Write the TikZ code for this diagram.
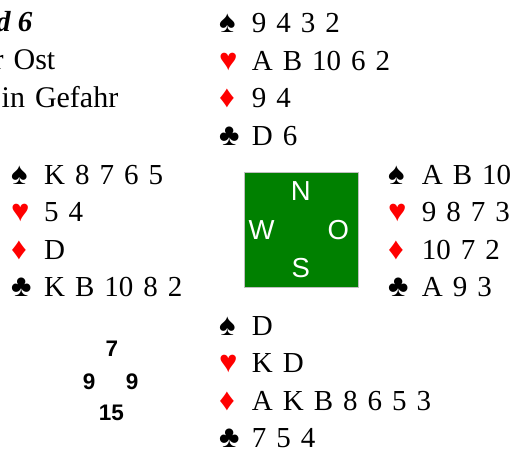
\documentclass[tikz,border=0pt]{standalone}
\usepackage{fontspec}
\setmainfont{Liberation Serif}
\newfontfamily\arialf{Liberation Sans}
\definecolor{felt}{HTML}{008000}
\definecolor{rim}{HTML}{BFBFBF}
\definecolor{suitred}{HTML}{FF0000}
\begin{document}
\begin{tikzpicture}[x=1pt,y=-1pt,
  card/.style={anchor=base west,inner sep=0pt,font={\fontsize{29}{34}\selectfont\spaceskip=10pt\relax}},
  suitsym/.style={anchor=base west,inner sep=0pt,font={\fontsize{31}{34}\selectfont}},
  suitblack/.style={suitsym,text=black},
  suitredst/.style={suitsym,text=suitred},
  info/.style={anchor=base east,inner sep=0pt,font={\fontsize{30}{34}\selectfont\spaceskip=10pt\relax}},
  compass/.style={anchor=center,inner sep=0pt,text=white,font={\arialf\fontsize{27.5}{28}\selectfont}},
  score/.style={anchor=base,inner sep=0pt,font={\arialf\bfseries\fontsize{22.5}{23}\selectfont}},
  table/.style={draw=rim,line width=1pt,fill=felt}]
\useasboundingbox (0,0) rectangle (517,449);
\clip (0,0) rectangle (517,449);
% header
\node[info,font={\fontsize{29}{34}\selectfont\bfseries\itshape}] (board) at (32.5,32) {Board 6};
\node[info] (dealer) at (55.5,70) {Teiler Ost};
\node[info] (vul) at (118.5,108) {O/W in Gefahr};
% north
\node[suitblack] (ns) at (219,33) {♠};
\node[card] (nsc) at (251.7,33) {9 4 3 2};
\node[suitredst] (nh) at (219,70.5) {♥};
\node[card] (nhc) at (251.7,70.5) {A B 10 6 2};
\node[suitredst] (nd) at (219,108) {♦};
\node[card] (ndc) at (251.7,108) {9 4};
\node[suitblack] (nc) at (219,145.5) {♣};
\node[card] (ncc) at (251.7,145.5) {D 6};
% west
\node[suitblack] (ws) at (11,184.5) {♠};
\node[card] (wsc) at (44,184.5) {K 8 7 6 5};
\node[suitredst] (wh) at (11,222) {♥};
\node[card] (whc) at (44,222) {5 4};
\node[suitredst] (wd) at (11,259.5) {♦};
\node[card] (wdc) at (44,259.5) {D};
\node[suitblack] (wc) at (11,297) {♣};
\node[card] (wcc) at (44,297) {K B 10 8 2};
% east
\node[suitblack] (es) at (388,184.5) {♠};
\node[card] (esc) at (421.7,184.5) {A B 10};
\node[suitredst] (eh) at (388,222) {♥};
\node[card] (ehc) at (421.7,222) {9 8 7 3};
\node[suitredst] (ed) at (388,259.5) {♦};
\node[card] (edc) at (421.7,259.5) {10 7 2};
\node[suitblack] (ec) at (388,297) {♣};
\node[card] (ecc) at (421.7,297) {A 9 3};
% south
\node[suitblack] (ss) at (219,335) {♠};
\node[card] (ssc) at (251.7,335) {D};
\node[suitredst] (sh) at (219,372.5) {♥};
\node[card] (shc) at (251.7,372.5) {K D};
\node[suitredst] (sd) at (219,410) {♦};
\node[card] (sdc) at (251.7,410) {A K B 8 6 5 3};
\node[suitblack] (sc) at (219,447.5) {♣};
\node[card] (scc) at (251.7,447.5) {7 5 4};
% table
\path[table] (244,173) rectangle (358,288);
\node[compass] (cn) at (300.7,191.3) {N};
\node[compass] (cw) at (261.5,229.7) {W};
\node[compass] (co) at (338.2,229.7) {O};
\node[compass] (cs) at (300.7,268.5) {S};
% points
\node[score] (pn) at (112,356.7) {7};
\node[score] (pw) at (89.2,389.3) {9};
\node[score] (pe) at (132.2,389.3) {9};
\node[score] (ps) at (111.3,420) {15};
\end{tikzpicture}
\end{document}
